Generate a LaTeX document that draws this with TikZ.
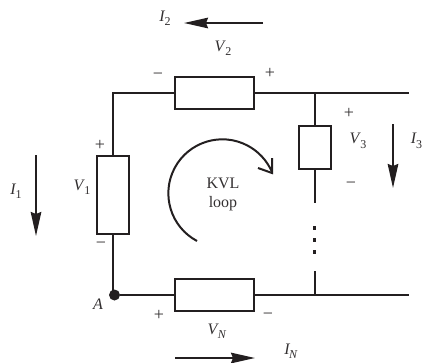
\documentclass[tikz,border=0pt]{standalone}
\usepackage{fontspec}
\setmainfont{Liberation Serif}
\usetikzlibrary{arrows.meta}
\definecolor{ink}{HTML}{231F20}
\definecolor{txt}{HTML}{333031}
\newcommand{\lab}[2]{\textit{#1}\kern-0.8pt\raisebox{-0.28em}{\fontsize{12}{13}\selectfont #2}}
\newcommand{\labit}[2]{\textit{#1}\kern-1.2pt\raisebox{-0.28em}{\fontsize{12}{13}\selectfont\textit{#2}}}
\tikzset{
  wire/.style={draw=ink,line width=2pt},
  box/.style={draw=ink,line width=2pt,fill=white,rectangle,inner sep=0pt,outer sep=0pt},
  hbox/.style={box,minimum width=79pt,minimum height=32pt},
  cur/.style={draw=ink,line width=2pt,-{Stealth[length=24pt,width=10.5pt,inset=2pt]}},
  tx/.style={text=txt,inner sep=0pt,font=\fontsize{16}{18}\selectfont},
  sign/.style={tx,font=\fontsize{18}{18}\selectfont},
  dotn/.style={circle,fill=ink,inner sep=0pt,minimum size=#1},
  sqdot/.style={rectangle,fill=ink,inner sep=0pt,minimum size=3.5pt}
}
\begin{document}
\begin{tikzpicture}[x=1pt,y=-1pt]
\path[use as bounding box,clip] (0,0) rectangle (423,362);
% components
\node[hbox] (R2) at (214.5,93) {};
\node[hbox] (RN) at (214.5,295) {};
\node[box,minimum width=32pt,minimum height=78pt] (R1) at (113,195) {};
\node[box,minimum width=32pt,minimum height=43pt] (R3) at (315,147.5) {};
\node[dotn=11pt] (A) at (114.5,295) {};
% junctions and free ends
\coordinate (TL) at (113,93);
\coordinate (TR) at (315,93);
\coordinate (TE) at (409,93);
\coordinate (BR) at (315,295);
\coordinate (BE) at (409,295);
\coordinate (R3end) at (315,203);
\coordinate (Stub) at (315,271);
% wires
\draw[wire,line join=miter] (R1.north) -- (TL) -- (R2.west);
\draw[wire] (R2.east) -- (TE);
\draw[wire] (TR) -- (R3.north);
\draw[wire] (R3.south) -- (R3end);
\draw[wire] (R1.south) -- (R1.south |- A);
\draw[wire] (A) -- (RN.west);
\draw[wire] (RN.east) -- (BE);
\draw[wire] (Stub) -- (BR);
% dots of the omitted branch
\node[sqdot] (d1) at (314.5,228) {};
\node[sqdot] (d2) at (314.5,240) {};
\node[sqdot] (d3) at (314.5,252) {};
% current arrows
\coordinate (i1a) at (36,155); \coordinate (i1b) at (36,236);
\coordinate (i2a) at (263,23); \coordinate (i2b) at (184,23);
\coordinate (i3a) at (393,124); \coordinate (i3b) at (393,188);
\coordinate (iNa) at (175,358); \coordinate (iNb) at (255,358);
\draw[cur] (i1a) -- (i1b);
\draw[cur] (i2a) -- (i2b);
\draw[cur] (i3a) -- (i3b);
\draw[cur] (iNa) -- (iNb);
% KVL loop
\coordinate (loopstart) at (197,241);
\coordinate (looptip) at (272,173);
\coordinate (barbA) at (258,168);
\coordinate (barbB) at (272,158);
\draw[wire] (loopstart) arc[start angle=118,end angle=336,radius=54];
\draw[wire,line join=miter] (barbA) -- (looptip) -- (barbB);
\node[tx] (kvl) at (223,183) {KVL};
\node[tx] (loop) at (223,204) {loop};
% labels
\node[tx] (I1) at (16,191) {\lab{I}{1}};
\node[tx] (I2) at (165,18) {\lab{I}{2}};
\node[tx] (I3) at (416.5,141) {\lab{I}{3}};
\node[tx] (IN) at (291,351) {\labit{I}{N}};
\node[tx] (V1) at (82,187) {\lab{V}{1}};
\node[tx] (V2) at (223,48) {\lab{V}{2}};
\node[tx] (V3) at (358,141) {\lab{V}{3}};
\node[tx] (VN) at (217,331) {\labit{V}{N}};
\node[tx] (Alab) at (98,304) {\textit{A}};
% polarity signs
\node[sign] (p1) at (100,145) {+};
\node[sign] (m1) at (101,245) {−};
\node[sign] (p2) at (270,73) {+};
\node[sign] (m2) at (158,76) {−};
\node[sign] (p3) at (349,113) {+};
\node[sign] (m3) at (351,185) {−};
\node[sign] (pN) at (159,315) {+};
\node[sign] (mN) at (268,316) {−};
\end{tikzpicture}
\end{document}
